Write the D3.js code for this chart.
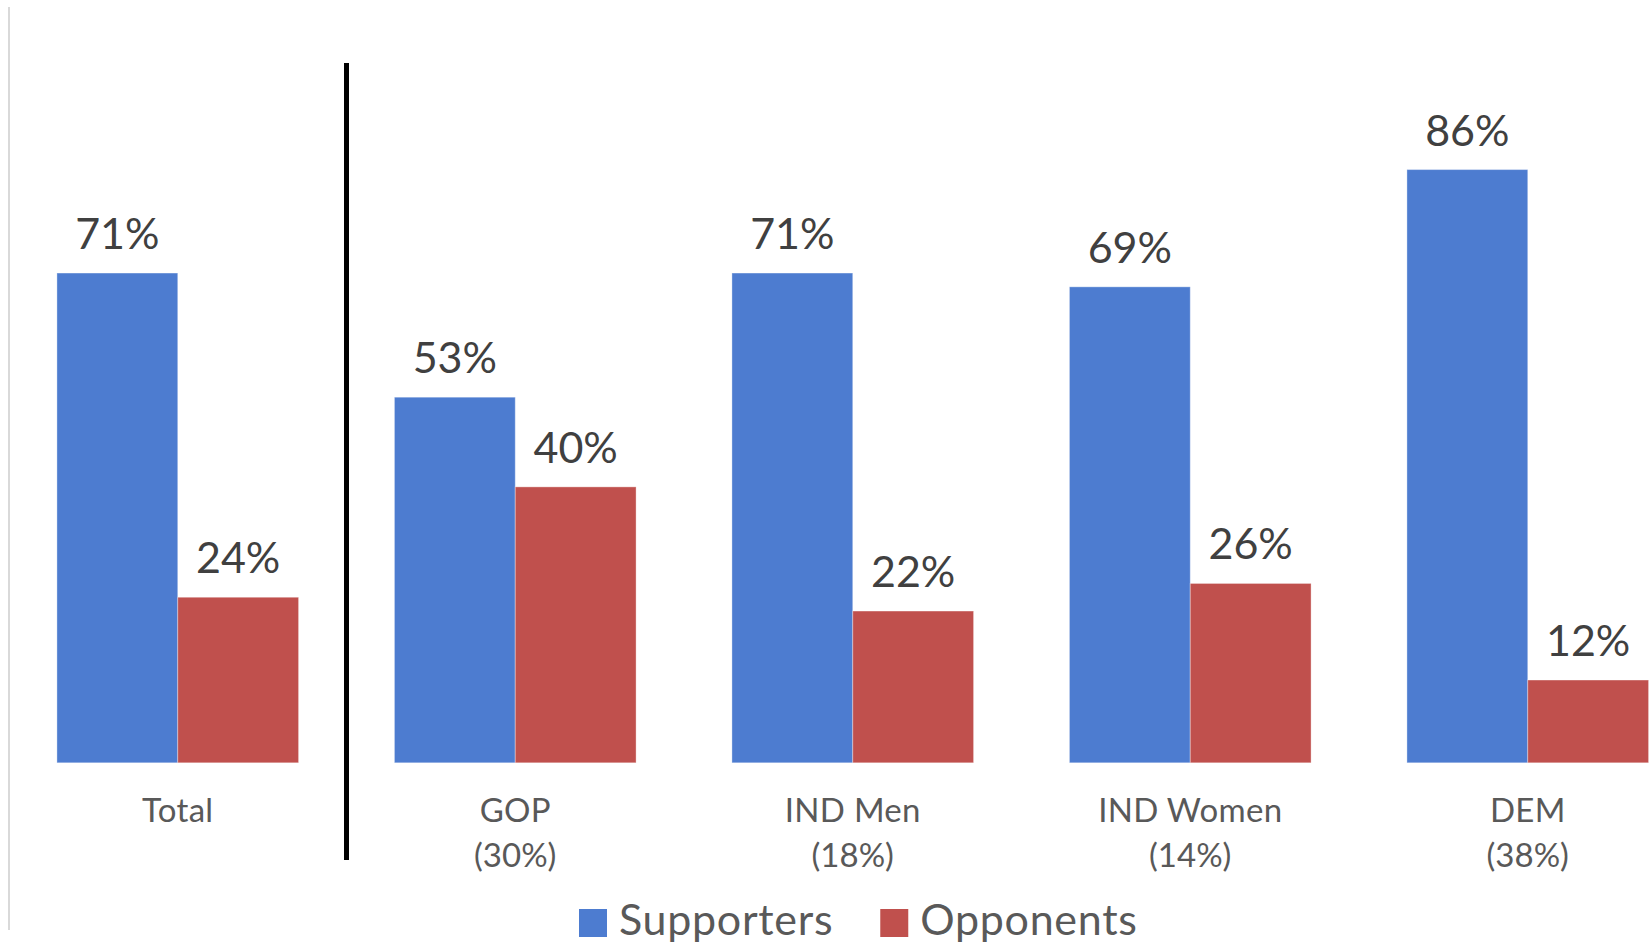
<!DOCTYPE html>
<html>
<head>
<meta charset="utf-8">
<script src="https://cdn.jsdelivr.net/npm/d3@7"></script>
<style>
  html, body { margin: 0; padding: 0; background: #ffffff; }
  svg { display: block; }
  text { font-family: Lato, "Open Sans", sans-serif; }
</style>
</head>
<body>
<svg id="chart" width="1652" height="944"></svg>
<script>
// Group labels (two lines each) and share of electorate
const categories = ["Total", "GOP", "IND Men", "IND Women", "DEM"];
const categorySubLabels = ["", "(30%)", "(18%)", "(14%)", "(38%)"];
const seriesNames = ["Supporters", "Opponents"];
const supporters = [71, 53, 71, 69, 86];
const opponents = [24, 40, 22, 26, 12];
const seriesColors = ["#4d7cd0", "#c0504d"];

const svg = d3.select("#chart");

const x0 = d3.scaleBand()
  .domain(categories)
  .range([9, 1696.5])
  .paddingInner(0.284)
  .paddingOuter(0.142);

const x1 = d3.scaleBand()
  .domain(seriesNames)
  .range([0, x0.bandwidth()])
  .padding(0);

const y = d3.scaleLinear().domain([0, 100]).range([762.8, 73]);

const color = d3.scaleOrdinal().domain(seriesNames).range(seriesColors);

// chart frame, left edge
svg.append("line")
  .attr("x1", 9).attr("x2", 9)
  .attr("y1", 7).attr("y2", 930)
  .attr("stroke", "#d9d9d9").attr("stroke-width", 2);

const rows = categories.map((c, i) => ({
  cat: c,
  sub: categorySubLabels[i],
  vals: [
    { series: seriesNames[0], value: supporters[i] },
    { series: seriesNames[1], value: opponents[i] }
  ]
}));

const groups = svg.append("g").selectAll("g.grp")
  .data(rows).join("g")
  .attr("class", "grp")
  .attr("transform", d => `translate(${x0(d.cat)},0)`);

groups.selectAll("rect")
  .data(d => d.vals).join("rect")
  .attr("x", d => x1(d.series))
  .attr("y", d => y(d.value))
  .attr("width", x1.bandwidth())
  .attr("height", d => y(0) - y(d.value))
  .attr("fill", d => color(d.series))
  .attr("stroke", "rgba(255,255,255,0.35)")
  .attr("stroke-width", 1);

groups.selectAll("text.val")
  .data(d => d.vals).join("text")
  .attr("class", "val")
  .attr("x", d => x1(d.series) + x1.bandwidth() / 2)
  .attr("y", d => y(d.value) - 24)
  .attr("text-anchor", "middle")
  .attr("font-size", 43)
  .attr("fill", "#404040")
  .text(d => d.value + "%");

// category axis labels
const xAxisLabels = svg.append("g");
rows.forEach(r => {
  const cx = x0(r.cat) + x0.bandwidth() / 2;
  xAxisLabels.append("text")
    .attr("x", cx).attr("y", 822)
    .attr("text-anchor", "middle")
    .attr("font-size", 33)
    .attr("letter-spacing", 0.3)
    .attr("fill", "#595959")
    .text(r.cat);
  if (r.sub) {
    xAxisLabels.append("text")
      .attr("x", cx).attr("y", 867)
      .attr("text-anchor", "middle")
      .attr("font-size", 33)
      .attr("fill", "#595959")
      .text(r.sub);
  }
});

// divider between the total and the party breakdown
const divX = (x0("Total") + x0.bandwidth() + x0("GOP")) / 2;
svg.append("line")
  .attr("x1", divX).attr("x2", divX)
  .attr("y1", 63).attr("y2", 860)
  .attr("stroke", "#000000").attr("stroke-width", 5);

// legend
const legend = svg.append("g").attr("transform", "translate(579,0)");
let lx = 0;
seriesNames.forEach(s => {
  legend.append("rect")
    .attr("x", lx).attr("y", 909)
    .attr("width", 28).attr("height", 28)
    .attr("fill", color(s));
  const t = legend.append("text")
    .attr("x", lx + 40).attr("y", 935)
    .attr("font-size", 43)
    .attr("letter-spacing", 0.7)
    .attr("fill", "#595959")
    .text(s);
  lx += 40 + t.node().getComputedTextLength() + 47;
});
</script>
</body>
</html>
